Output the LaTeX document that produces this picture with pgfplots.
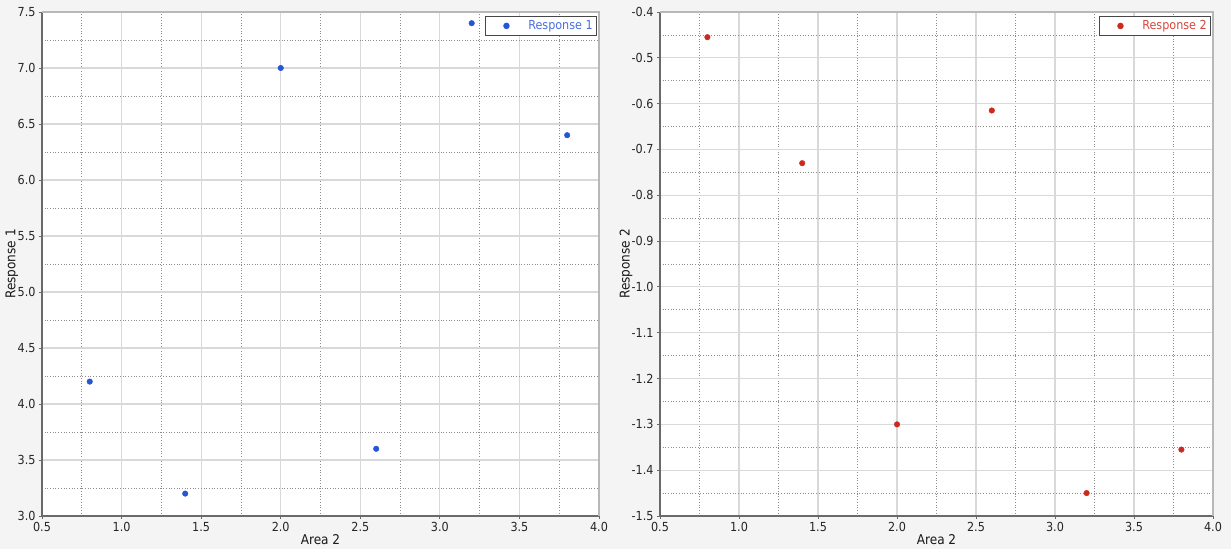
\documentclass[border=0pt]{standalone}
\usepackage{pgfplots}
\pgfplotsset{compat=1.18}
\usepackage{fontspec}
\setmainfont{DejaVu Sans Condensed}
\definecolor{bg}{HTML}{F4F4F4}
\definecolor{majg}{HTML}{D9D9D9}
\definecolor{ming}{HTML}{8C8C8C}
\definecolor{axd}{HTML}{6A6A6A}
\definecolor{axl}{HTML}{B8B8B8}
\definecolor{lgb}{HTML}{474747}
\definecolor{ptblue}{HTML}{2456D6}
\definecolor{lgblue}{HTML}{4A6EE0}
\definecolor{ptred}{HTML}{CC2A1E}
\definecolor{lgred}{HTML}{D8473C}
\pgfplotsset{
  common/.style={
    scale only axis,
    anchor=south west,
    axis lines=left,
    axis line style={-, color=axd, line width=1.3bp},
    axis background/.style={fill=white},
    xmin=0.5, xmax=4.0,
    xtick={0.5,1.0,...,4.0},
    minor x tick num=1,
    minor y tick num=1,
    grid=both,
    major grid style={color=majg, line width=1.1bp},
    minor grid style={color=ming, line width=0.7bp, dotted},
    tick align=outside,
    major tick length=3bp,
    minor tick length=0pt,
    tick style={color=axd, line width=0.8bp},
    /pgf/number format/assume math mode=true,
    xticklabel style={/pgf/number format/.cd, fixed, fixed zerofill, precision=1},
    yticklabel style={/pgf/number format/.cd, fixed, fixed zerofill, precision=1},
    tick label style={font=\fontsize{12.5}{14}\selectfont, color=black!85},
    label style={font=\fontsize{13.5}{15}\selectfont, color=black!90},
    xlabel={Area 2},
    xlabel style={at={(axis description cs:0.5,-0.0476)}, anchor=center},
    legend style={at={(0.997,0.993)}, anchor=north east, draw=lgb, line width=1.2bp,
      fill=white, font=\fontsize{12.5}{14}\selectfont, inner xsep=2bp, inner ysep=2.5bp},
    legend image code/.code={\path[draw=none,fill=none] (0,0) -- (1.38cm,0); \fill[##1] (0.68cm,0) circle (2.6bp);},
    after end axis/.code={
      \draw[axl, line width=1.1bp] (rel axis cs:0,1) -- (rel axis cs:1,1) -- (rel axis cs:1,0);
    },
  }
}
\begin{document}
\begin{tikzpicture}[x=1bp,y=1bp]
\fill[bg] (0,0) rectangle (1231,549);
\begin{axis}[common,
  at={(42bp,33bp)}, width=557bp, height=504bp,
  ymin=3.0, ymax=7.5, ytick={3.0,3.5,...,7.5},
  ylabel={Response 1},
  ylabel style={at={(axis description cs:-0.0539,0.5)}, anchor=center},
  legend style={text=lgblue},
]
\addplot[only marks, mark=*, mark size=2.8bp, color=ptblue, fill=ptblue] coordinates {
(0.8,4.2) (1.4,3.2) (2.0,7.0) (2.6,3.6) (3.2,7.4) (3.8,6.4)};
\addlegendentry{Response 1}
\end{axis}
\begin{axis}[common,
  at={(660bp,33bp)}, width=553bp, height=504bp,
  ymin=-1.5, ymax=-0.4, ytick={-1.5,-1.4,...,-0.35},
  ylabel={Response 2},
  ylabel style={at={(axis description cs:-0.0615,0.5)}, anchor=center},
  legend style={text=lgred},
]
\addplot[only marks, mark=*, mark size=2.8bp, color=ptred, fill=ptred] coordinates {
(0.8,-0.455) (1.4,-0.73) (2.0,-1.3) (2.6,-0.615) (3.2,-1.45) (3.8,-1.355)};
\addlegendentry{Response 2}
\end{axis}
\pgfresetboundingbox
\path (0,0) rectangle (1231,549);
\end{tikzpicture}
\end{document}
